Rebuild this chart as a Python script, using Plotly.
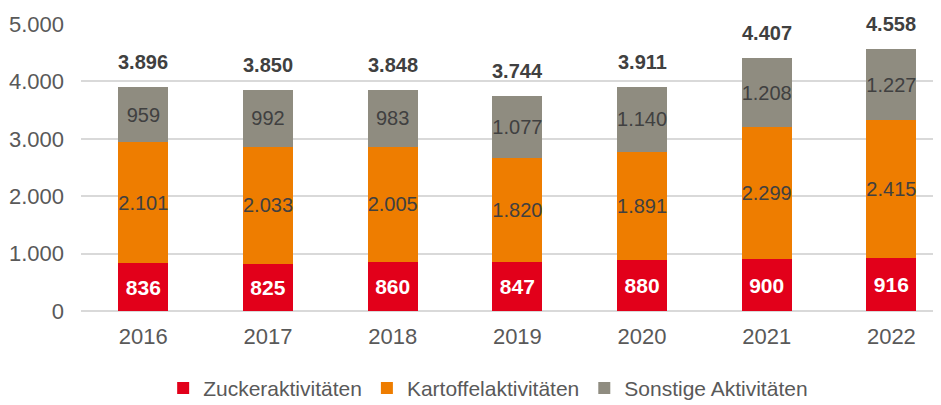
import plotly.graph_objects as go

years = ["2016", "2017", "2018", "2019", "2020", "2021", "2022"]
zucker = [836, 825, 860, 847, 880, 900, 916]
kartoffel = [2101, 2033, 2005, 1820, 1891, 2299, 2415]
sonstige = [959, 992, 983, 1077, 1140, 1208, 1227]
totals = [3896, 3850, 3848, 3744, 3911, 4407, 4558]
y_ticks = [0, 1000, 2000, 3000, 4000, 5000]

FONT = "Liberation Sans, Arial, sans-serif"

def de(v):
    return f"{v:,}".replace(",", ".")

fig = go.Figure()
series = [
    ("Zuckeraktivitäten", zucker, "#E2001A", "white", "<b>%s</b>", 21),
    ("Kartoffelaktivitäten", kartoffel, "#EE7D00", "#404040", "%s", 20),
    ("Sonstige Aktivitäten", sonstige, "#8F8C80", "#404040", "%s", 20),
]
for name, vals, col, tcol, fmt, fs in series:
    fig.add_trace(go.Bar(
        x=years, y=vals, name=name,
        marker=dict(color=col, line=dict(width=0)),
        text=[fmt % de(v) for v in vals],
        textposition="inside", insidetextanchor="middle", textangle=0,
        constraintext="none",
        insidetextfont=dict(family=FONT, size=fs, color=tcol),
        hoverinfo="skip",
    ))

for i, t in enumerate(totals):
    fig.add_annotation(x=i, y=t, text="<b>%s</b>" % de(t), showarrow=False,
                       xref="x", yref="y",
                       yanchor="bottom", yshift=12,
                       font=dict(family=FONT, size=20, color="#404040"))

# page body has an 8px margin, so the figure is sized to the visible area
fig.update_layout(
    barmode="stack", bargap=0.6,
    width=933, height=397,
    margin=dict(l=73, r=1, t=16, b=94, autoexpand=False),
    plot_bgcolor="white", paper_bgcolor="white",
    font=dict(family=FONT, size=21, color="#595959"),
    legend=dict(orientation="h", x=0.474, xanchor="center", y=-0.198, yanchor="top",
                font=dict(family=FONT, size=21, color="#595959"),
                traceorder="normal"),
    showlegend=True,
)
fig.update_xaxes(type="category", range=[-0.5, 6.39], showgrid=False, showline=False,
                 ticks="", ticklabelstandoff=10, automargin=False,
                 tickfont=dict(family=FONT, size=22, color="#595959"))
fig.update_yaxes(range=[0, 5000], tickvals=y_ticks, ticktext=[de(v) for v in y_ticks],
                 showgrid=True, gridcolor="#D9D9D9", gridwidth=1.5,
                 zeroline=True, zerolinecolor="#D9D9D9", zerolinewidth=1.5,
                 showline=False, ticks="", ticklabelstandoff=16, automargin=False,
                 tickfont=dict(family=FONT, size=22, color="#595959"))

fig.write_html("out.html")
